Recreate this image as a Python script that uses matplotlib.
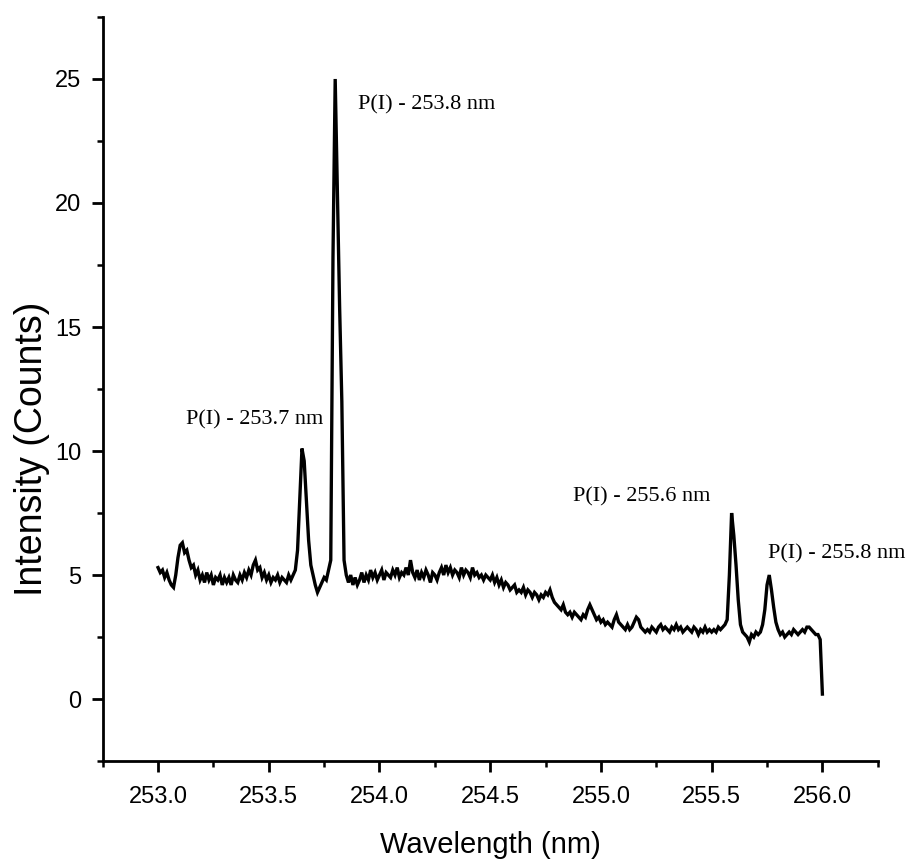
import numpy as np
import matplotlib
matplotlib.use("Agg")
import matplotlib.pyplot as plt
from matplotlib.ticker import MultipleLocator, FormatStrFormatter

# Emission spectrum, sampled every 0.01 nm from 253.00 to 256.00 nm
wl_start, wl_step = 253.00, 0.01
intensity = [
    5.3, 5.1, 5.2, 4.9, 5.1, 4.8, 4.6, 4.5, 5.0, 5.7,   # 253.00
    6.2, 6.3, 5.9, 6.0, 5.6, 5.3, 5.4, 5.0, 5.2, 4.8,   # 253.10
    5.0, 4.7, 5.1, 4.8, 5.0, 4.6, 4.9, 4.8, 5.0, 4.6,   # 253.20
    4.9, 4.7, 4.9, 4.6, 5.0, 4.8, 4.7, 5.0, 4.8, 5.1,   # 253.30
    4.9, 5.2, 5.0, 5.4, 5.6, 5.2, 5.3, 4.9, 5.1, 4.8,   # 253.40
    5.0, 4.7, 4.9, 4.8, 5.0, 4.7, 4.9, 4.8, 4.7, 5.0,   # 253.50
    4.8, 5.0, 5.2, 6.0, 8.0, 10.1, 9.6, 8.0, 6.4, 5.4,  # 253.60
    5.0, 4.6, 4.3, 4.5, 4.7, 4.9, 4.8, 5.2, 5.6, 17.8,  # 253.70
    25.0, 20.5, 15.8, 12.0, 5.6, 5.0, 4.7, 5.0, 4.6, 4.9,  # 253.80
    4.6, 4.8, 5.1, 4.7, 5.0, 4.8, 5.2, 4.9, 5.1, 4.8,   # 253.90
    5.0, 5.2, 4.8, 5.1, 5.0, 4.9, 5.2, 5.0, 5.3, 4.9,   # 254.00
    5.1, 5.0, 5.3, 5.0, 5.6, 5.1, 4.9, 5.2, 4.8, 5.1,   # 254.10
    4.9, 5.2, 5.0, 4.7, 5.1, 5.0, 4.8, 5.1, 5.3, 5.0,   # 254.20
    5.4, 5.1, 5.3, 5.0, 5.2, 5.1, 4.9, 5.3, 5.0, 5.2,   # 254.30
    5.1, 4.9, 5.3, 5.0, 5.1, 4.9, 5.0, 4.8, 5.0, 4.9,   # 254.40
    4.8, 5.0, 4.7, 4.9, 4.6, 4.8, 4.5, 4.7, 4.6, 4.4,   # 254.50
    4.5, 4.6, 4.3, 4.4, 4.3, 4.5, 4.2, 4.4, 4.3, 4.1,   # 254.60
    4.3, 4.2, 4.0, 4.2, 4.1, 4.3, 4.2, 4.4, 4.1, 3.9,   # 254.70
    3.8, 3.7, 3.6, 3.8, 3.5, 3.4, 3.5, 3.3, 3.5, 3.4,   # 254.80
    3.3, 3.2, 3.4, 3.3, 3.6, 3.8, 3.6, 3.4, 3.2, 3.3,   # 254.90
    3.1, 3.2, 3.0, 3.1, 3.0, 2.9, 3.2, 3.4, 3.1, 3.0,   # 255.00
    2.9, 2.8, 3.0, 2.8, 2.9, 3.1, 3.3, 3.2, 2.9, 2.8,   # 255.10
    2.7, 2.8, 2.7, 2.9, 2.8, 2.7, 2.9, 3.0, 2.8, 2.9,   # 255.20
    2.8, 2.7, 2.9, 2.8, 3.0, 2.8, 2.9, 2.7, 2.8, 2.9,   # 255.30
    2.8, 2.7, 2.9, 2.8, 2.6, 2.8, 2.7, 2.9, 2.7, 2.8,   # 255.40
    2.7, 2.8, 2.7, 2.9, 2.8, 2.9, 3.0, 3.2, 5.0, 7.5,   # 255.50
    6.6, 5.4, 4.0, 3.0, 2.7, 2.6, 2.5, 2.3, 2.6, 2.5,   # 255.60
    2.7, 2.6, 2.7, 3.0, 3.6, 4.6, 5.0, 4.4, 3.7, 3.1,   # 255.70
    2.8, 2.6, 2.7, 2.5, 2.6, 2.7, 2.6, 2.8, 2.7, 2.6,   # 255.80
    2.7, 2.8, 2.7, 2.9, 2.9, 2.8, 2.7, 2.6, 2.6, 2.4,   # 255.90
    0.2,                                                 # 256.00
]
wavelength = wl_start + wl_step * np.arange(len(intensity))

# Line identifications: text, x (nm), y (counts)
line_labels = ["P(I) - 253.7 nm", "P(I) - 253.8 nm", "P(I) - 255.6 nm", "P(I) - 255.8 nm"]
label_x = [253.128, 253.902, 254.874, 255.755]
label_y = [11.25, 23.95, 8.15, 5.85]

x_ticks = [253.0, 253.5, 254.0, 254.5, 255.0, 255.5, 256.0]
y_ticks = [0, 5, 10, 15, 20, 25]

fig = plt.figure(figsize=(9.15, 8.66), dpi=100)
ax = fig.add_axes([0.1122, 0.1212, 0.8471, 0.8592])

ax.plot(wavelength, intensity, color="black", lw=2.4, solid_joinstyle="miter")

ax.set_xlim(252.75, 256.25)
ax.set_ylim(-2.5, 27.5)
ax.set_xticks(x_ticks)
ax.set_yticks(y_ticks)
ax.xaxis.set_minor_locator(MultipleLocator(0.25))
ax.yaxis.set_minor_locator(MultipleLocator(2.5))
ax.xaxis.set_major_formatter(FormatStrFormatter("%.1f"))

for side in ("top", "right"):
    ax.spines[side].set_visible(False)
for side in ("left", "bottom"):
    ax.spines[side].set_linewidth(2.0)

tick_font = "Liberation Sans"
ax.tick_params(axis="both", which="major", direction="out", length=8, width=2.0,
               labelsize=17)
ax.tick_params(axis="x", which="major", pad=10)
ax.tick_params(axis="y", which="major", pad=7.5)
ax.tick_params(axis="both", which="minor", direction="out", length=4, width=1.8)
for lab in ax.get_xticklabels() + ax.get_yticklabels():
    lab.set_fontfamily(tick_font)

ax.set_xlabel("Wavelength (nm)", fontsize=21, family=tick_font)
ax.set_ylabel("Intensity (Counts)", fontsize=27, family=tick_font)
ax.xaxis.set_label_coords(0.5, -0.113)
ax.xaxis.label.set_va("center")
ax.yaxis.set_label_coords(-0.091, 0.42)
ax.yaxis.label.set_va("center")

for txt, lx, ly in zip(line_labels, label_x, label_y):
    ax.text(lx, ly, txt, family="Liberation Serif", fontsize=16,
            ha="left", va="center")

fig.savefig("out.png", dpi=100, facecolor="white")
